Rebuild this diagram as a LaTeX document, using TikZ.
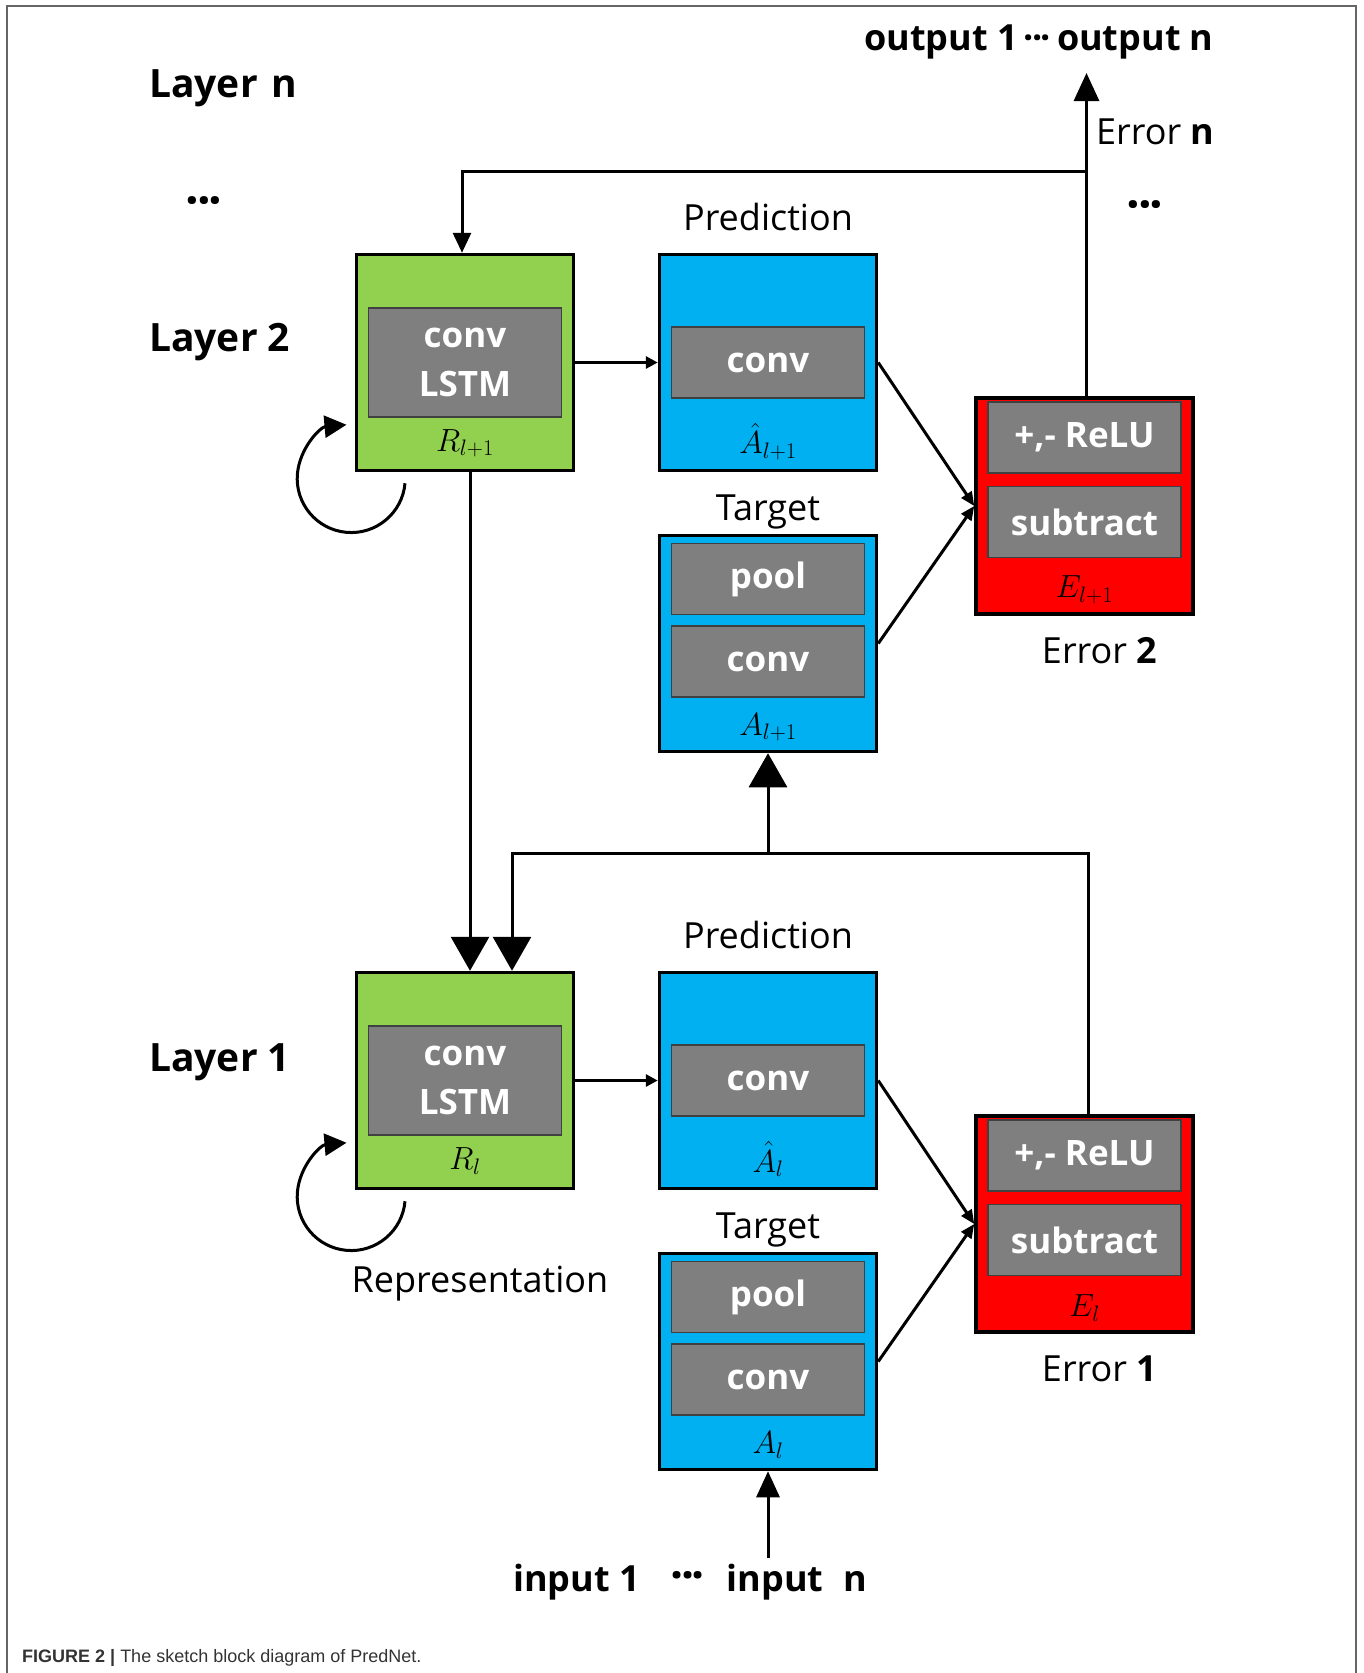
\RequirePackage{fix-cm}
\documentclass[tikz,border=0pt]{standalone}
\usepackage{fontspec}
\setmainfont{Open Sans}
\newfontfamily\capfont{Liberation Sans}
\usetikzlibrary{arrows.meta,positioning}

\definecolor{lstmgreen}{HTML}{92D050}
\definecolor{predblue}{HTML}{00B0F0}
\definecolor{errred}{HTML}{FF0000}
\definecolor{opgray}{HTML}{7F7F7F}
\newcommand{\mdots}{\textbf{·\kern-0.05em·\kern-0.05em·}}

\begin{document}
\begin{tikzpicture}[x=1pt, y=-1pt,
	block/.style = {draw=black, line width=3.5pt, minimum width=217pt, minimum height=216pt, inner sep=0pt},
	op/.style = {draw=black!75, line width=1.5pt, fill=opgray, text=white, minimum width=193pt, minimum height=71pt,
		inner sep=0pt, align=center, font=\fontsize{35}{49}\selectfont\bfseries},
	sym/.style = {inner sep=0pt, font=\fontsize{32}{36}\selectfont},
	heading/.style = {inner sep=0pt, font=\fontsize{36}{40}\selectfont},
	layer/.style = {inner sep=0pt, anchor=west, font=\fontsize{39}{44}\selectfont\bfseries},
	io/.style = {inner sep=0pt, font=\fontsize{36}{40}\selectfont\bfseries},
	flow/.style = {line width=3pt},
	small/.style = {flow, -{Triangle[length=12pt,width=12pt]}},
	big/.style = {flow, -{Triangle[length=34pt,width=38pt]}}]
	\useasboundingbox (0,0) rectangle (1363,1673);
	\draw[black!60, line width=2pt] (7,1673) -- (7,6) -- (1356,6) -- (1356,1673);

	% layer 2
	\node[block, fill=lstmgreen] (green2) at (465,362.5) {};
	\node[op, minimum height=109pt] (lstm2) at (green2) {conv\\LSTM};
	\node[sym] at ([yshift=29pt]green2.south) {$R_{l+1}$};
	\node[block, fill=predblue] (pred2) at (768,362.5) {};
	\node[op] (pconv2) at (pred2) {conv};
	\node[sym] at ([yshift=31pt]pred2.south) {$\hat{A}_{l+1}$};
	\node[heading] at ([yshift=36pt]pred2.north) {Prediction};
	\node[block, fill=predblue] (targ2) at (768,643.5) {};
	\node[op, below=9pt of targ2.north] (pool2) {pool};
	\node[op, below=10pt of pool2] (tconv2) {conv};
	\node[sym] at ([yshift=26pt]targ2.south) {$A_{l+1}$};
	\node[heading] at ([yshift=22pt]targ2.north) {Target};
	\node[block, fill=errred] (err2) at (1084.5,506) {};
	\node[op, below=5pt of err2.north] (relu2) {+,- ReLU};
	\node[op, below=12pt of relu2] (sub2) {subtract};
	\node[sym] at ([yshift=26pt]err2.south) {$E_{l+1}$};
	\node[heading] at ([yshift=-35pt,xshift=15pt]err2.south) {Error \textbf{2}};

	% layer 1
	\node[block, fill=lstmgreen] (green1) at (465,1080.5) {};
	\node[op, minimum height=109pt] (lstm1) at (green1) {conv\\LSTM};
	\node[sym] at ([yshift=29pt]green1.south) {$R_{l}$};
	\node[block, fill=predblue] (pred1) at (768,1080.5) {};
	\node[op] (pconv1) at (pred1) {conv};
	\node[sym] at ([yshift=31pt]pred1.south) {$\hat{A}_{l}$};
	\node[heading] at ([yshift=36pt]pred1.north) {Prediction};
	\node[block, fill=predblue] (targ1) at (768,1361.5) {};
	\node[op, below=9pt of targ1.north] (pool1) {pool};
	\node[op, below=10pt of pool1] (tconv1) {conv};
	\node[sym] at ([yshift=26pt]targ1.south) {$A_{l}$};
	\node[heading] at ([yshift=22pt]targ1.north) {Target};
	\node[block, fill=errred] (err1) at (1084.5,1224) {};
	\node[op, below=5pt of err1.north] (relu1) {+,- ReLU};
	\node[op, below=12pt of relu1] (sub1) {subtract};
	\node[sym] at ([yshift=26pt]err1.south) {$E_{l}$};
	\node[heading] at ([yshift=-35pt,xshift=15pt]err1.south) {Error \textbf{1}};

	% side texts
	\node[layer] at (149,88) {Layer\hspace{0.35em}n};
	\node[inner sep=0pt, font=\fontsize{48}{50}\selectfont] at (204,207) {\mdots};
	\node[layer] at (149,342) {Layer 2};
	\node[layer] at (149,1062) {Layer 1};
	\node[heading] at (480,1284) {Representation};
	\node[heading, anchor=west] at (1096,132) {Error \textbf{n}};
	\node[inner sep=0pt, font=\fontsize{48}{50}\selectfont] at (1145,211) {\mdots};
	\node[io] (outtext) at (1039,42) {output 1\,\mdots\,output n};
	\node[io] (intext) at (690,1582) {input 1\hspace{0.85em}{\fontsize{46}{46}\selectfont\mdots}\hspace{0.6em}input\hspace{0.55em}n};
	\node[anchor=base west, inner sep=0pt, text=black!80, font=\capfont\fontsize{18}{22}\selectfont] at (22,1662)
		{\textbf{FIGURE 2 |} The sketch block diagram of PredNet.};

	% connectors
	\coordinate (outtip) at (1086,73);
	\coordinate (fbrow2) at (0,171);
	\coordinate (fbrow1) at (0,853);
	\coordinate (intail) at (766,1558);
	\coordinate (g1in) at ([xshift=47pt]green1.north);
	\draw[small] (green2) -- (pred2);
	\draw[small] (green1) -- (pred1);
	\draw[flow, -{Triangle[length=14pt,width=12pt]}] (pred2.east) -- (err2.west);
	\draw[flow, -{Triangle[length=14pt,width=12pt]}] (targ2.east) -- (err2.west);
	\draw[flow, -{Triangle[length=14pt,width=12pt]}] (pred1.east) -- (err1.west);
	\draw[flow, -{Triangle[length=14pt,width=12pt]}] (targ1.east) -- (err1.west);
	\draw[flow, -{Triangle[length=28pt,width=25pt]}] ([xshift=2pt]err2.north) -- ([xshift=2pt]err2.north |- outtip);
	\draw[flow, -{Triangle[length=20pt,width=18pt]}] ([xshift=2pt]err2.north |- fbrow2) -| ([xshift=-3pt]green2.north);
	\draw[big] ([xshift=5pt]green2.south) -- ([xshift=5pt]green1.north);
	\draw[big] ([xshift=4pt]err1.north) |- (g1in |- fbrow1) -- (g1in);
	\draw[big] (targ2.south |- fbrow1) -- (targ2.south);
	\draw[flow, -{Triangle[length=26pt,width=23pt]}] (targ1.south |- intail) -- (targ1.south);
	\draw[flow, -{Triangle[length=22pt,width=22pt]}] ([xshift=-60pt,yshift=-11pt]green2.south)
		arc[start angle=-5, end angle=-265, radius=54pt];
	\draw[flow, -{Triangle[length=22pt,width=22pt]}] ([xshift=-60pt,yshift=-11pt]green1.south)
		arc[start angle=-5, end angle=-265, radius=54pt];
\end{tikzpicture}
\end{document}
